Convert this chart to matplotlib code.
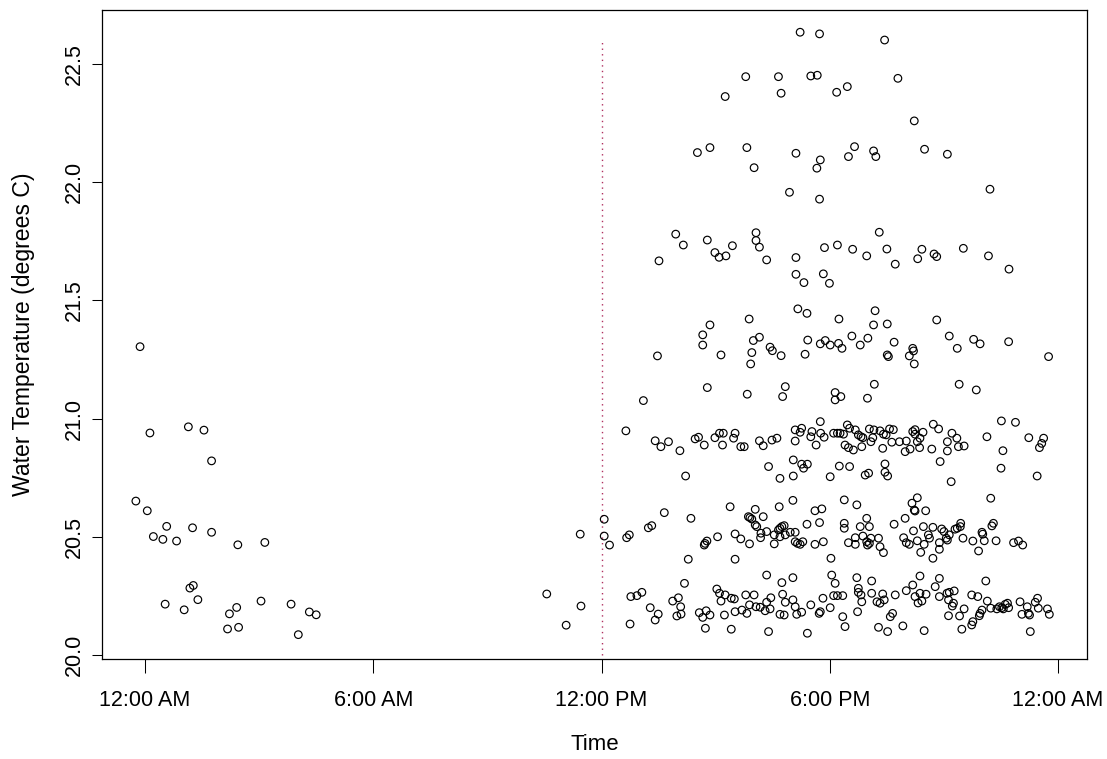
import matplotlib
matplotlib.use("Agg")
import matplotlib.pyplot as plt

plt.rcParams['font.family'] = ['Liberation Sans', 'DejaVu Sans']

# ---- data: (hour of day, water temperature in degrees C) ----
early_morning = [
    (-0.13, 21.304), (0.13, 20.939), (1.14, 20.965), (1.55, 20.951), (1.75, 20.821),
    (-0.24, 20.651), (0.06, 20.610), (0.22, 20.501), (0.57, 20.544), (0.47, 20.489),
    (0.83, 20.482), (1.25, 20.538), (1.75, 20.519), (2.44, 20.466), (3.15, 20.476),
    (1.18, 20.283), (1.27, 20.294), (0.53, 20.215), (1.03, 20.191), (1.39, 20.234),
    (2.22, 20.174), (2.41, 20.201), (2.17, 20.110), (2.46, 20.117), (3.05, 20.228),
    (3.84, 20.215), (4.32, 20.182), (4.50, 20.170), (4.03, 20.086),
]

late_morning = [(11.44, 20.511), (10.56, 20.258), (11.46, 20.207), (11.07, 20.126)]

afternoon_low = [
    (12.77, 20.247), (12.93, 20.251), (13.06, 20.265), (13.28, 20.200), (13.49, 20.173),
    (13.41, 20.148), (12.75, 20.131), (13.87, 20.228), (14.02, 20.242), (14.08, 20.204),
    (14.09, 20.173), (13.98, 20.165), (14.57, 20.179), (14.75, 20.187), (14.66, 20.159),
    (14.85, 20.169), (14.73, 20.113), (15.03, 20.279), (15.10, 20.261), (15.25, 20.254),
    (15.14, 20.228), (15.41, 20.240), (15.49, 20.237), (15.23, 20.169), (15.51, 20.183),
    (15.69, 20.190), (15.82, 20.176), (15.79, 20.254), (16.01, 20.254), (15.89, 20.212),
    (16.06, 20.204), (16.17, 20.202), (16.30, 20.187), (16.34, 20.223), (16.45, 20.242),
    (16.43, 20.195), (15.41, 20.109), (16.39, 20.099), (16.76, 20.257), (16.83, 20.223),
    (17.03, 20.233), (17.09, 20.204), (16.69, 20.172), (16.80, 20.169), (17.13, 20.172),
    (17.26, 20.181), (17.50, 20.212), (17.41, 20.092), (17.72, 20.176), (17.75, 20.183),
    (17.82, 20.240), (18.01, 20.200), (18.10, 20.251), (18.20, 20.251), (18.34, 20.251),
    (18.34, 20.162), (18.40, 20.120), (18.75, 20.282), (18.75, 20.265), (18.82, 20.254),
    (18.84, 20.225), (18.73, 20.183), (19.10, 20.261), (19.24, 20.225), (19.32, 20.219),
    (19.39, 20.258), (19.43, 20.233), (19.28, 20.117), (19.52, 20.099), (19.59, 20.162),
    (19.65, 20.176), (19.72, 20.254), (19.92, 20.123), (20.01, 20.272), (20.24, 20.247),
    (20.37, 20.261), (20.42, 20.228), (20.53, 20.257), (20.32, 20.220), (20.48, 20.103),
    (20.77, 20.289), (20.88, 20.247), (21.08, 20.261), (21.14, 20.265), (21.27, 20.271),
    (21.12, 20.233), (21.25, 20.219), (21.22, 20.207), (21.12, 20.166), (21.41, 20.165),
    (21.53, 20.195), (21.47, 20.109), (21.73, 20.127), (21.76, 20.141), (21.73, 20.254),
    (21.89, 20.247), (21.95, 20.176), (22.00, 20.190), (21.93, 20.166), (22.14, 20.228),
    (22.23, 20.198), (22.39, 20.195), (22.46, 20.204), (22.52, 20.200), (22.56, 20.195),
    (22.61, 20.214), (22.67, 20.219), (22.70, 20.200), (23.00, 20.225), (23.05, 20.172),
    (23.19, 20.204), (23.22, 20.176), (23.25, 20.169), (23.40, 20.223), (23.46, 20.240),
    (23.48, 20.198), (23.27, 20.099), (23.72, 20.195), (23.77, 20.172),
    (14.18, 20.303), (16.34, 20.338), (16.74, 20.306), (17.03, 20.327), (18.05, 20.338),
    (18.14, 20.303), (18.71, 20.327), (19.10, 20.313), (20.37, 20.334), (20.18, 20.296),
    (20.88, 20.324), (22.10, 20.313),
]

afternoon_mid = [
    (12.07, 20.574), (12.07, 20.503), (12.21, 20.465), (12.66, 20.496), (12.73, 20.508),
    (13.23, 20.538), (13.32, 20.547), (13.65, 20.602), (14.35, 20.578), (14.28, 20.405),
    (14.70, 20.465), (14.72, 20.472), (14.77, 20.482), (15.05, 20.500), (15.38, 20.627),
    (15.51, 20.405), (15.51, 20.512), (15.66, 20.491), (15.89, 20.470), (15.86, 20.585),
    (15.90, 20.581), (16.04, 20.616), (15.95, 20.575), (16.04, 20.550), (16.08, 20.543),
    (16.25, 20.585), (16.19, 20.515), (16.18, 20.496), (16.34, 20.522), (16.54, 20.508),
    (16.54, 20.470), (16.67, 20.627), (16.69, 20.536), (16.74, 20.543), (16.80, 20.547),
    (16.65, 20.529), (16.69, 20.500), (16.83, 20.508), (16.96, 20.519), (17.09, 20.519),
    (17.03, 20.654), (17.09, 20.479), (17.15, 20.472), (17.22, 20.468), (17.29, 20.479),
    (17.40, 20.553), (17.61, 20.610), (17.79, 20.618), (17.73, 20.560), (17.61, 20.468),
    (17.83, 20.479), (18.03, 20.409), (18.38, 20.656), (18.38, 20.557), (18.38, 20.536),
    (18.71, 20.635), (18.97, 20.578), (19.04, 20.543), (18.80, 20.543), (18.49, 20.475),
    (18.67, 20.468), (18.67, 20.496), (18.87, 20.503), (18.97, 20.479), (18.99, 20.465),
    (19.04, 20.472), (19.08, 20.494), (19.28, 20.494), (19.32, 20.458), (19.41, 20.433),
    (20.16, 20.642), (20.30, 20.665), (20.22, 20.613), (20.24, 20.609), (20.52, 20.610),
    (19.98, 20.578), (19.69, 20.553), (19.94, 20.496), (20.01, 20.475), (20.09, 20.468),
    (20.20, 20.525), (20.30, 20.483), (20.46, 20.543), (20.48, 20.468), (20.39, 20.434),
    (20.59, 20.508), (20.62, 20.494), (20.71, 20.540), (20.71, 20.409), (20.88, 20.475),
    (20.88, 20.447), (20.94, 20.533), (21.00, 20.522), (21.06, 20.494), (21.09, 20.486),
    (21.14, 20.508), (21.29, 20.532), (21.35, 20.536), (21.44, 20.557), (21.43, 20.543),
    (21.50, 20.494), (21.76, 20.482), (21.91, 20.440), (22.00, 20.519), (22.02, 20.511),
    (22.06, 20.483), (22.37, 20.483), (22.23, 20.663), (22.26, 20.546), (22.30, 20.557),
    (22.83, 20.475), (22.96, 20.482), (23.07, 20.465),
]

afternoon_high = [
    (13.10, 21.076), (16.76, 21.093), (18.14, 21.079), (18.29, 21.093), (12.64, 20.948),
    (13.41, 20.906), (13.56, 20.881), (13.76, 20.902), (14.06, 20.864), (14.21, 20.757),
    (14.46, 20.914), (14.55, 20.921), (14.70, 20.888), (14.98, 20.919), (15.10, 20.938),
    (15.20, 20.938), (15.18, 20.888), (15.47, 20.917), (15.51, 20.938), (15.66, 20.881),
    (15.75, 20.881), (16.15, 20.906), (16.25, 20.885), (16.48, 20.909), (16.61, 20.917),
    (16.39, 20.797), (16.69, 20.747), (17.04, 20.757), (17.04, 20.825), (17.26, 20.807),
    (17.31, 20.790), (17.41, 20.807), (17.09, 20.952), (17.22, 20.942), (17.26, 20.959),
    (17.09, 20.905), (17.50, 20.923), (17.53, 20.945), (17.64, 20.888), (17.75, 20.987),
    (17.76, 20.938), (17.85, 20.921), (18.01, 20.754), (18.10, 20.938), (18.20, 20.938),
    (18.27, 20.938), (18.36, 20.934), (18.40, 20.888), (18.25, 20.799), (18.99, 21.086),
    (18.46, 20.973), (18.52, 20.959), (18.49, 20.877), (18.62, 20.867), (18.67, 20.952),
    (18.75, 20.931), (18.82, 20.923), (18.87, 20.919), (18.84, 20.881), (19.04, 20.956),
    (19.08, 20.902), (19.13, 20.919), (19.16, 20.952), (19.32, 20.948), (19.41, 20.934),
    (19.48, 20.931), (19.39, 20.874), (19.57, 20.956), (19.63, 20.900), (19.67, 20.953),
    (19.83, 20.902), (20.01, 20.905), (19.98, 20.860), (20.11, 20.871), (20.18, 20.945),
    (20.24, 20.953), (20.24, 20.934), (20.30, 20.902), (20.36, 20.877), (20.37, 20.917),
    (20.45, 20.942), (20.68, 20.871), (20.72, 20.976), (20.86, 20.956), (20.90, 20.818),
    (21.09, 20.902), (21.09, 20.863), (21.21, 20.938), (21.34, 20.917), (21.38, 20.881),
    (21.53, 20.884), (21.19, 20.733), (22.13, 20.923), (22.51, 20.990), (22.88, 20.984),
    (22.55, 20.864), (23.23, 20.919), (23.51, 20.877), (23.57, 20.895), (23.62, 20.917),
    (22.50, 20.790), (23.45, 20.757), (18.52, 20.797), (18.93, 20.761), (19.02, 20.769),
    (19.45, 20.808), (19.45, 20.773), (19.52, 20.757),
]

afternoon_21_3 = [
    (14.78, 21.131), (15.83, 21.103), (16.83, 21.135), (18.14, 21.110), (19.17, 21.145),
    (21.40, 21.145), (21.85, 21.121), (15.14, 21.269), (15.95, 21.279), (15.92, 21.231),
    (16.49, 21.287), (16.72, 21.266), (13.47, 21.265), (17.35, 21.272), (19.51, 21.269),
    (19.54, 21.262), (20.09, 21.265), (20.20, 21.286), (20.22, 21.231), (23.75, 21.262),
    (17.42, 21.332), (17.75, 21.316), (17.88, 21.330), (18.01, 21.311), (18.23, 21.318),
    (18.32, 21.297), (18.58, 21.349), (18.80, 21.311), (19.00, 21.340), (19.69, 21.323),
    (20.18, 21.297), (21.14, 21.349), (21.35, 21.297), (21.78, 21.335), (21.95, 21.316),
    (22.70, 21.325), (14.85, 21.396), (14.66, 21.354), (14.66, 21.311), (15.88, 21.421),
    (15.99, 21.330), (16.15, 21.344), (16.43, 21.302), (17.16, 21.464), (17.40, 21.445),
    (18.24, 21.421), (19.19, 21.456), (19.15, 21.396), (19.51, 21.400), (20.81, 21.417),
]

afternoon_21_7 = [
    (13.95, 21.780), (14.15, 21.734), (14.78, 21.755), (14.98, 21.702), (15.09, 21.682),
    (15.27, 21.688), (15.44, 21.731), (16.06, 21.786), (16.06, 21.753), (16.15, 21.725),
    (16.34, 21.671), (13.51, 21.667), (17.11, 21.681), (17.11, 21.610), (19.30, 21.788),
    (17.86, 21.723), (18.20, 21.734), (18.60, 21.716), (18.97, 21.688), (19.50, 21.717),
    (19.72, 21.653), (20.42, 21.716), (20.31, 21.676), (20.74, 21.696), (20.81, 21.685),
    (21.51, 21.720), (22.17, 21.688), (22.71, 21.632), (17.32, 21.575), (17.83, 21.612),
    (17.99, 21.572),
]

afternoon_22_1 = [
    (14.52, 22.125), (14.85, 22.146), (15.82, 22.146), (16.01, 22.061), (17.11, 22.122),
    (16.94, 21.957), (20.22, 22.259), (17.75, 22.094), (17.66, 22.059), (18.49, 22.108),
    (18.65, 22.150), (19.15, 22.132), (19.21, 22.108), (20.49, 22.139), (21.09, 22.118),
    (17.73, 21.928), (22.21, 21.970),
]

afternoon_top = [
    (17.22, 22.634), (15.79, 22.446), (16.65, 22.446), (16.72, 22.376), (15.25, 22.362),
    (17.73, 22.627), (19.44, 22.601), (17.50, 22.449), (17.67, 22.452), (18.18, 22.380),
    (18.46, 22.404), (19.79, 22.439),
]

x_ticks = [0, 6, 12, 18, 24]
x_tick_labels = ["12:00 AM", "6:00 AM", "12:00 PM", "6:00 PM", "12:00 AM"]
y_ticks = [20.0, 20.5, 21.0, 21.5, 22.0, 22.5]
y_tick_labels = ["20.0", "20.5", "21.0", "21.5", "22.0", "22.5"]
noon_hour = 12
noon_line_range = (20.0, 22.6)

all_obs = (early_morning + late_morning + afternoon_low + afternoon_mid +
           afternoon_high + afternoon_21_3 + afternoon_21_7 + afternoon_22_1 + afternoon_top)
hours = [h for h, _ in all_obs]
temps = [t for _, t in all_obs]

fig = plt.figure(figsize=(11.07, 7.59), dpi=100)
ax = fig.add_axes([0.09214, 0.13175, 0.88979, 0.85507])

ax.vlines(noon_hour, noon_line_range[0], noon_line_range[1], colors='#B03060',
          linestyles=(0, (1, 3)), linewidth=1.0, zorder=1)
ax.scatter(hours, temps, s=30, facecolors='none', edgecolors='black',
           linewidths=0.85, zorder=2)

ax.set_xlim(-1.13, 24.76)
ax.set_ylim(19.983, 22.728)

ax.set_xticks(x_ticks)
ax.set_xticklabels(x_tick_labels, fontsize=15.5)
ax.set_yticks(y_ticks)
ax.set_yticklabels(y_tick_labels, fontsize=15.5, rotation=90, va='center')

ax.tick_params(axis='x', direction='out', length=10, width=0.75, pad=12)
ax.tick_params(axis='y', direction='out', length=7.2, width=0.75, pad=5)
for sp in ax.spines.values():
    sp.set_linewidth(0.9)
    sp.set_color('black')

ax.set_xlabel('Time', fontsize=16, va='center')
ax.xaxis.set_label_coords(0.5, -0.1325)
ax.set_ylabel('Water Temperature (degrees C)', fontsize=16.6, va='center')
ax.yaxis.set_label_coords(-0.0802, 0.5)

fig.savefig('out.png', dpi=100)
